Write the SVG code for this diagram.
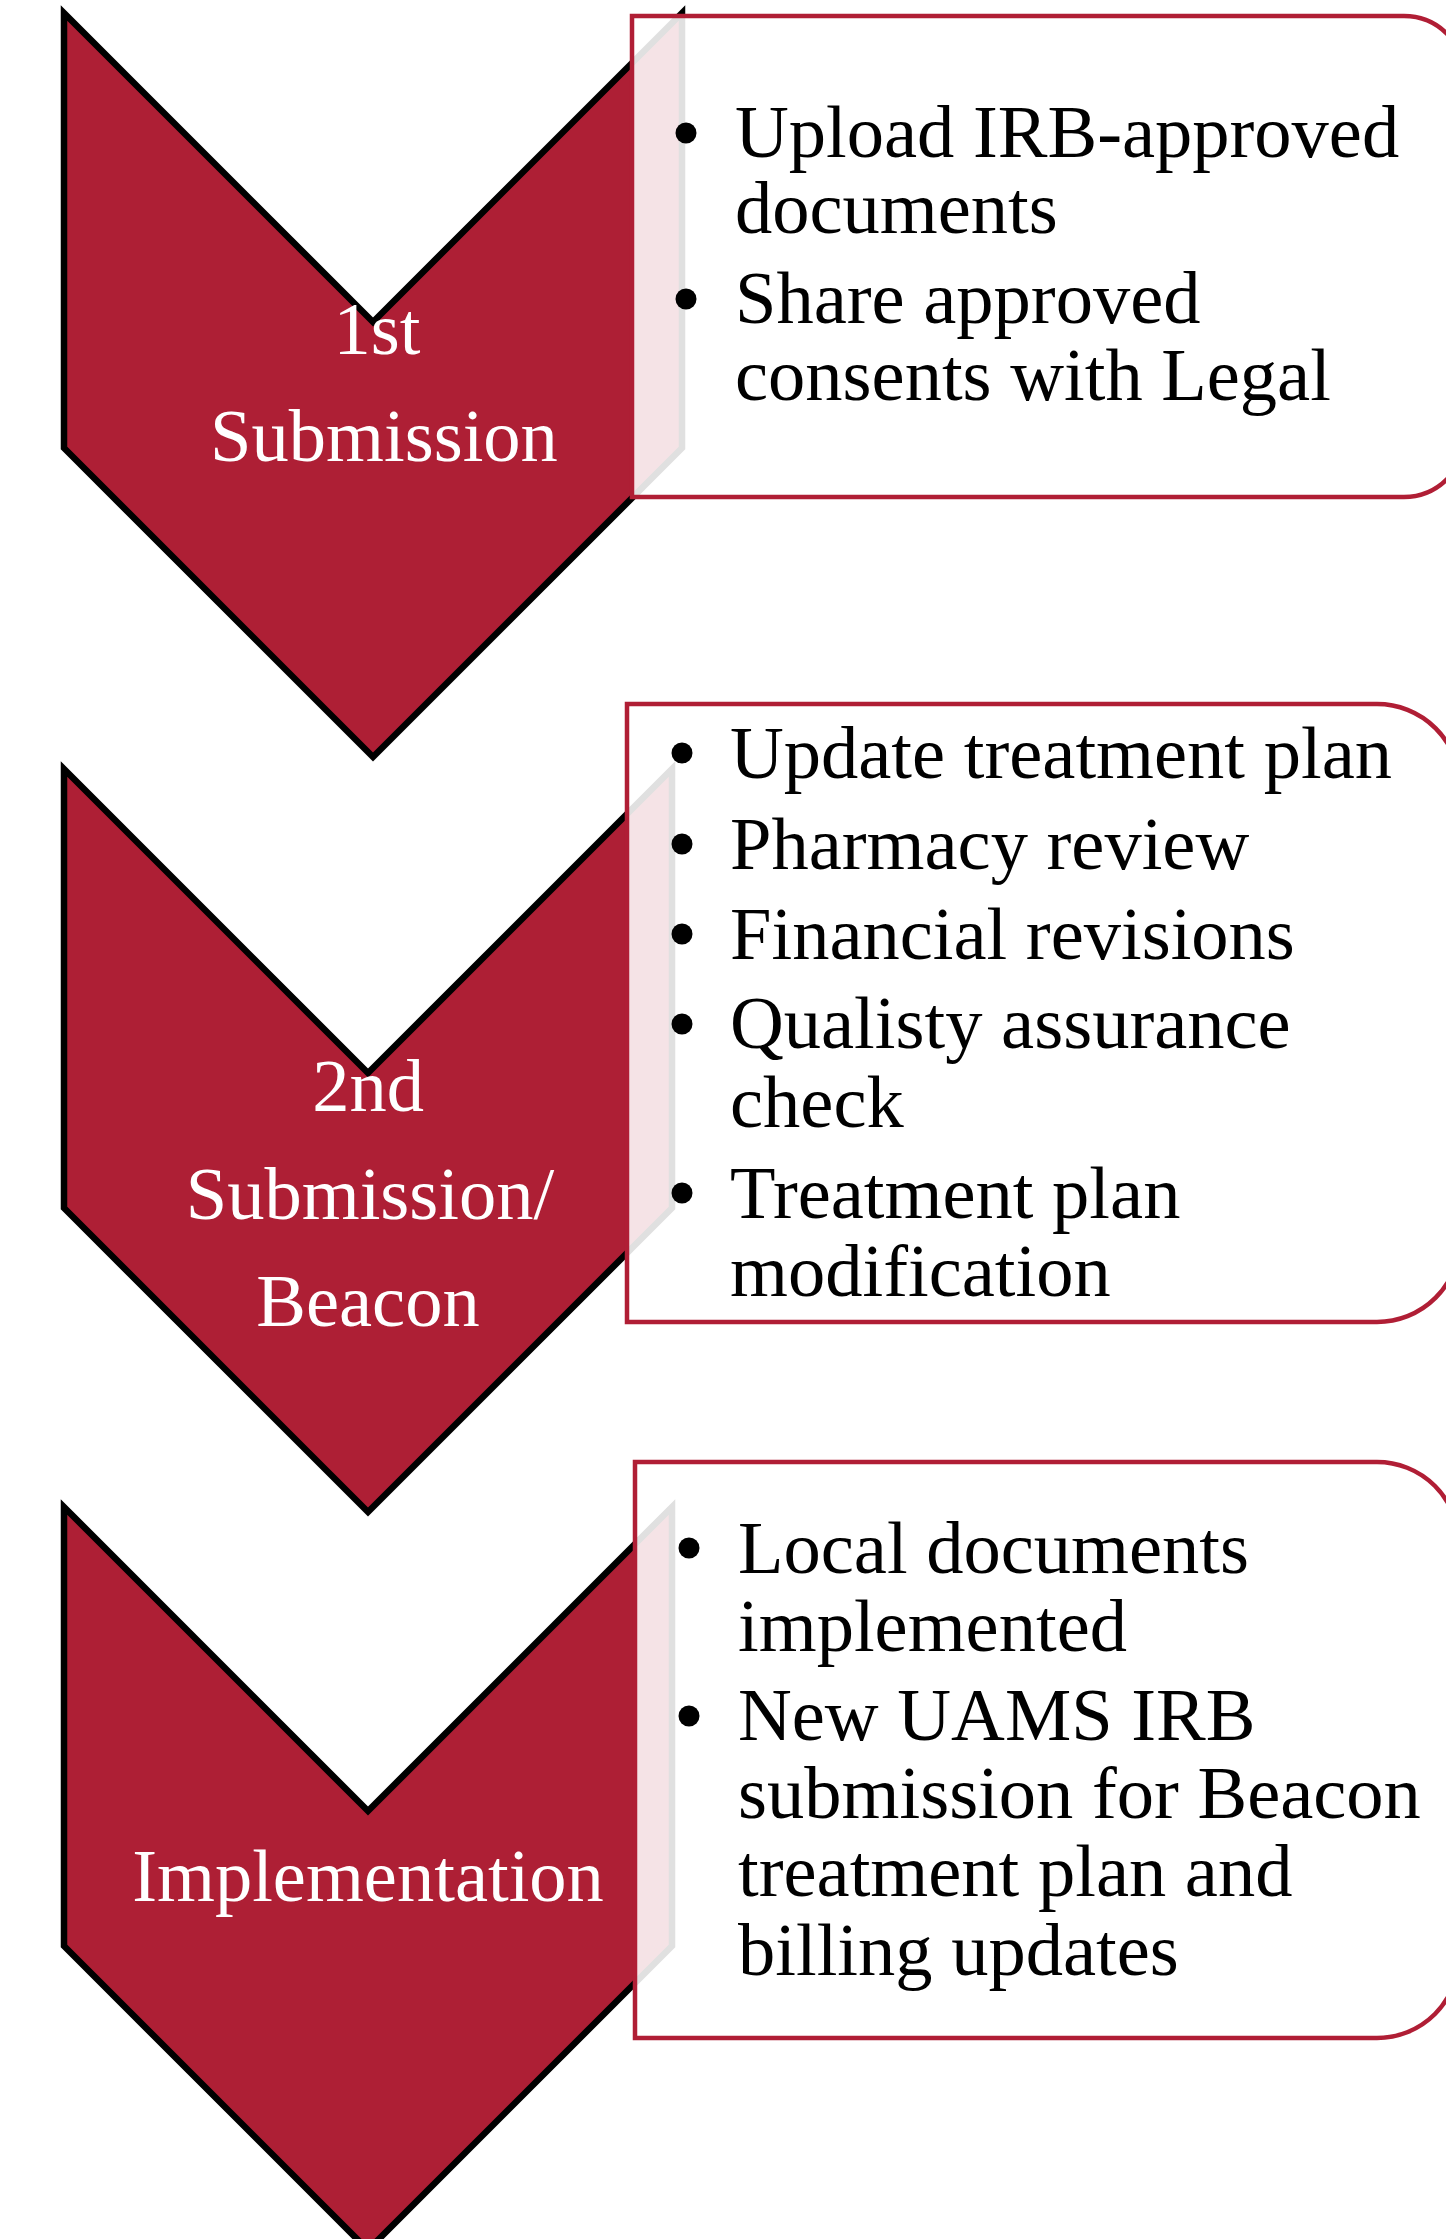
<svg xmlns="http://www.w3.org/2000/svg" width="1446" height="2239" viewBox="0 0 1446 2239">
  <style>
    .chev { fill: #AE1F35; stroke: #000000; stroke-width: 6.5; stroke-linejoin: miter; }
    .box { fill: #FFFFFF; fill-opacity: 0.88; stroke: #B01E35; stroke-width: 4.5; }
    .lbl { font-family: "Liberation Serif", "Times New Roman", serif; font-size: 74.5px; fill: #FFFFFF; text-anchor: middle; }
    .txt { font-family: "Liberation Serif", "Times New Roman", serif; font-size: 74.5px; fill: #000000; }
    .dot { fill: #000000; }
  </style>
  <defs>
    <circle id="bullet" r="10.5" class="dot"/>
  </defs>
  <rect x="0" y="0" width="1446" height="2239" fill="#FFFFFF"/>

  <!-- step chevrons -->
  <g id="step1">
    <path class="chev" d="M64,13 L373,322 L682,13 L682,448 L373,757 L64,448 Z"/>
    <text class="lbl"><tspan x="377" y="354">1st</tspan><tspan x="384" y="461">Submission</tspan></text>
  </g>
  <g id="step2">
    <path class="chev" d="M64,769 L368,1073 L672,769 L672,1208 L368,1512 L64,1208 Z"/>
    <text class="lbl"><tspan x="368" y="1111">2nd</tspan><tspan x="370" y="1219">Submission/</tspan><tspan x="368" y="1326">Beacon</tspan></text>
  </g>
  <g id="step3">
    <path class="chev" d="M64,1507 L368,1811 L672,1507 L672,1946 L368,2250 L64,1946 Z"/>
    <text class="lbl" x="368" y="1901">Implementation</text>
  </g>

  <!-- detail panels -->
  <g id="details1">
    <path class="box" d="M632,16 H1404 A61,61 0 0 1 1465,77 V436 A61,61 0 0 1 1404,497 H632 Z"/>
    <use href="#bullet" x="686" y="133"/>
    <use href="#bullet" x="686" y="299"/>
    <text class="txt">
      <tspan x="735" y="157">Upload IRB-approved</tspan>
      <tspan x="735" y="233">documents</tspan>
      <tspan x="735" y="323">Share approved</tspan>
      <tspan x="735" y="400">consents with Legal</tspan>
    </text>
  </g>
  <g id="details2">
    <path class="box" d="M627,704 H1377 A83,83 0 0 1 1460,787 V1239 A83,83 0 0 1 1377,1322 H627 Z"/>
    <use href="#bullet" x="682" y="753"/>
    <use href="#bullet" x="682" y="844"/>
    <use href="#bullet" x="682" y="934"/>
    <use href="#bullet" x="682" y="1024"/>
    <use href="#bullet" x="682" y="1193"/>
    <text class="txt">
      <tspan x="730" y="778">Update treatment plan</tspan>
      <tspan x="730" y="869">Pharmacy review</tspan>
      <tspan x="730" y="959">Financial revisions</tspan>
      <tspan x="730" y="1048">Qualisty assurance</tspan>
      <tspan x="730" y="1127">check</tspan>
      <tspan x="730" y="1218">Treatment plan</tspan>
      <tspan x="730" y="1296">modification</tspan>
    </text>
  </g>
  <g id="details3">
    <path class="box" d="M635,1462 H1377 A82,82 0 0 1 1459,1544 V1956 A82,82 0 0 1 1377,2038 H635 Z"/>
    <use href="#bullet" x="689" y="1548"/>
    <use href="#bullet" x="689" y="1716"/>
    <text class="txt">
      <tspan x="738" y="1573">Local documents</tspan>
      <tspan x="738" y="1651">implemented</tspan>
      <tspan x="738" y="1740">New UAMS IRB</tspan>
      <tspan x="738" y="1818">submission for Beacon</tspan>
      <tspan x="738" y="1896">treatment plan and</tspan>
      <tspan x="738" y="1975">billing updates</tspan>
    </text>
  </g>

  <g id="connectors"/>
</svg>
